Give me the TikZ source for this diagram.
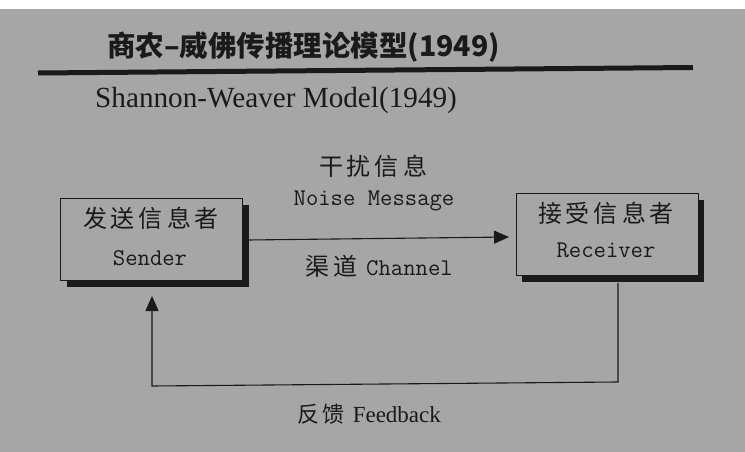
\documentclass[tikz,border=0pt]{standalone}
\usepackage{fontspec}
\setmainfont{Liberation Serif}
\newfontfamily\cjk{Noto Sans CJK SC}
\usetikzlibrary{arrows.meta}
\definecolor{bg}{RGB}{166,166,166}
\definecolor{ink}{RGB}{26,26,26}
\tikzset{
  box/.style={draw=ink, line width=0.9pt, fill=bg, minimum width=182pt, minimum height=82pt, inner sep=0pt},
  shadowbox/.style={fill=ink, minimum width=182pt, minimum height=82pt, inner sep=0pt},
  conn/.style={draw=ink, line width=1.1pt},
  tip/.style={-{Triangle[length=15pt,width=13pt]}},
  cjktxt/.style={font=\cjk\fontsize{24}{26}\selectfont, text=ink, inner sep=0pt},
  ttxt/.style={font=\ttfamily\fontsize{24}{26}\selectfont, text=ink, inner sep=0pt},
}
\begin{document}
\begin{tikzpicture}[x=1pt,y=-1pt]
\useasboundingbox (0,0) rectangle (745,452);
\fill[white] (0,0) rectangle (745,452);
\fill[bg] (0,9) rectangle (745,452);
% title
\node[anchor=west, inner sep=0pt, text=ink, font=\cjk\bfseries\fontsize{28.5}{30}\selectfont] (title) at (107,47) {商农–威佛传播理论模型(1949)};
\coordinate (ruleL) at (38,73);
\coordinate (ruleR) at (693,67.5);
\draw[ink, line width=5pt] (ruleL) -- (ruleR);
\node[anchor=west, inner sep=0pt, text=ink, font=\fontsize{29.2}{31}\selectfont] (sub) at (95,100) {Shannon-Weaver Model(1949)};
% boxes
\node[shadowbox] (ss) at (157.5,245.5) {};
\node[box] (sender) at (151,239) {};
\node[shadowbox] (rs) at (613,241) {};
\node[box] (receiver) at (607,234.5) {};
\node[cjktxt] (s1) at (151,218) {发\,送\,信\,息\,者};
\node[ttxt] (s2) at (150,258) {Sender};
\node[cjktxt] (r1) at (606,213) {接\,受\,信\,息\,者};
\node[ttxt] (r2) at (606,250) {Receiver};
% channel
\coordinate (a0) at (248,240);
\coordinate (a1) at (509,237);
\draw[conn, tip] (a0) -- (a1);
\node[cjktxt] (n1) at (373,166) {干\,扰\,信\,息};
\node[ttxt] (n2) at (374,201) {Noise Message};
\node[inner sep=0pt, text=ink] (ch) at (379,266) {{\cjk\fontsize{24}{26}\selectfont 渠\,道}\hspace{9pt}{\ttfamily\fontsize{24}{26}\selectfont Channel}};
% feedback
\coordinate (f0) at (618,283);
\coordinate (f1) at (618,382);
\coordinate (f2) at (152,386);
\coordinate (f3) at (152,296);
\draw[conn, tip] (f0) -- (f1) -- (f2) -- (f3);
\node[inner sep=0pt, text=ink] (fb) at (369,414) {{\cjk\fontsize{22}{24}\selectfont 反\,馈}\hspace{8pt}{\fontsize{23}{25}\selectfont Feedback}};
\end{tikzpicture}
\end{document}
